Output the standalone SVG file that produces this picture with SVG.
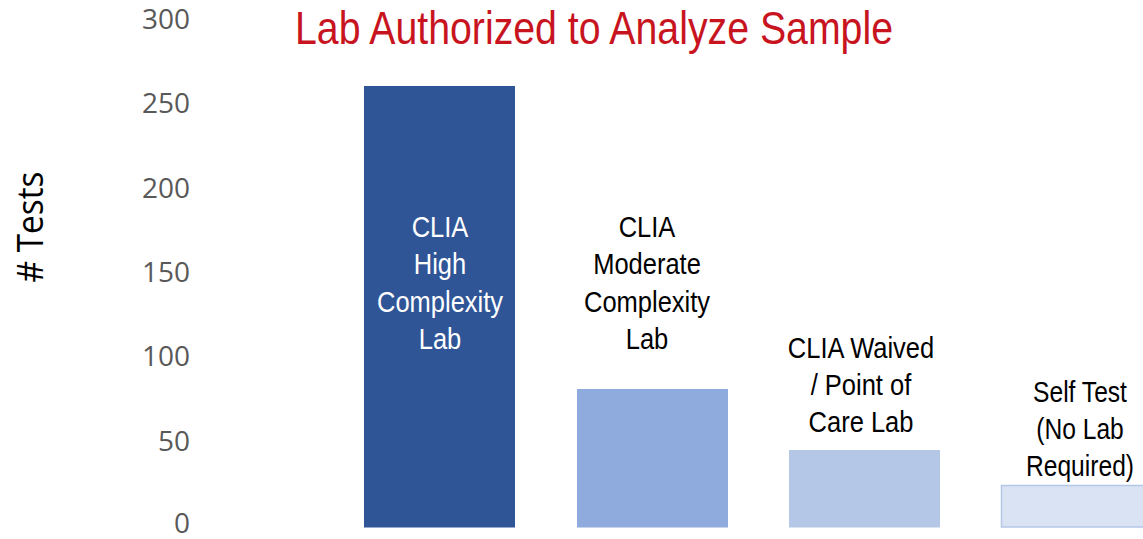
<svg xmlns="http://www.w3.org/2000/svg" width="1143" height="539" viewBox="0 0 1143 539">
<style>
.tick{font-family:"Open Sans","Liberation Sans",sans-serif;font-size:28px;fill:#595959;text-anchor:end}
.lbl{font-family:"Liberation Sans",Arial,sans-serif;font-size:30px;fill:#000;text-anchor:middle}
.wh{fill:#fff}
.title{font-family:"Liberation Sans",Arial,sans-serif;font-size:46px;fill:#c8141e}
.ytitle{font-family:"Open Sans","Liberation Sans",sans-serif;font-size:36px;fill:#000;text-anchor:middle}
</style>
<rect width="1143" height="539" fill="#fff"/>
<g id="axis">
<text class="tick" x="190" y="29">300</text>
<text class="tick" x="190" y="113">250</text>
<text class="tick" x="190" y="198">200</text>
<text class="tick" x="190" y="282">150</text>
<text class="tick" x="190" y="366">100</text>
<text class="tick" x="190" y="451">50</text>
<text class="tick" x="190" y="533">0</text>
<text class="ytitle" transform="translate(43,227) rotate(-90)" x="0" y="0" textLength="111" lengthAdjust="spacingAndGlyphs"># Tests</text>
</g>
<g id="title">
<text class="title" x="295" y="44" textLength="598" lengthAdjust="spacingAndGlyphs">Lab Authorized to Analyze Sample</text>
</g>
<g id="connectors"></g>
<g id="bar-high">
<rect x="364" y="86" width="151" height="441.5" fill="#2f5597"/>
<g transform="translate(440,0) scale(0.85,1)">
<text class="lbl wh" x="0" y="237">CLIA</text>
<text class="lbl wh" x="0" y="274">High</text>
<text class="lbl wh" x="0" y="312">Complexity</text>
<text class="lbl wh" x="0" y="349">Lab</text>
</g>
</g>
<g id="bar-moderate">
<rect x="577" y="389" width="151" height="138.5" fill="#8faadc"/>
<g transform="translate(647,0) scale(0.85,1)">
<text class="lbl" x="0" y="237">CLIA</text>
<text class="lbl" x="0" y="274">Moderate</text>
<text class="lbl" x="0" y="312">Complexity</text>
<text class="lbl" x="0" y="349">Lab</text>
</g>
</g>
<g id="bar-waived">
<rect x="789" y="450" width="151" height="77.5" fill="#b4c7e7"/>
<g transform="translate(861,0) scale(0.85,1)">
<text class="lbl" x="0" y="358">CLIA Waived</text>
<text class="lbl" x="0" y="395">/ Point of</text>
<text class="lbl" x="0" y="432">Care Lab</text>
</g>
</g>
<g id="bar-self">
<rect x="1001.5" y="485.5" width="150" height="41.5" fill="#dae3f3" stroke="#b4c7e7" stroke-width="1.5"/>
<g transform="translate(1080,0) scale(0.82,1)">
<text class="lbl" x="0" y="402">Self Test</text>
<text class="lbl" x="0" y="439">(No Lab</text>
<text class="lbl" x="0" y="476">Required)</text>
</g>
</g>
</svg>
